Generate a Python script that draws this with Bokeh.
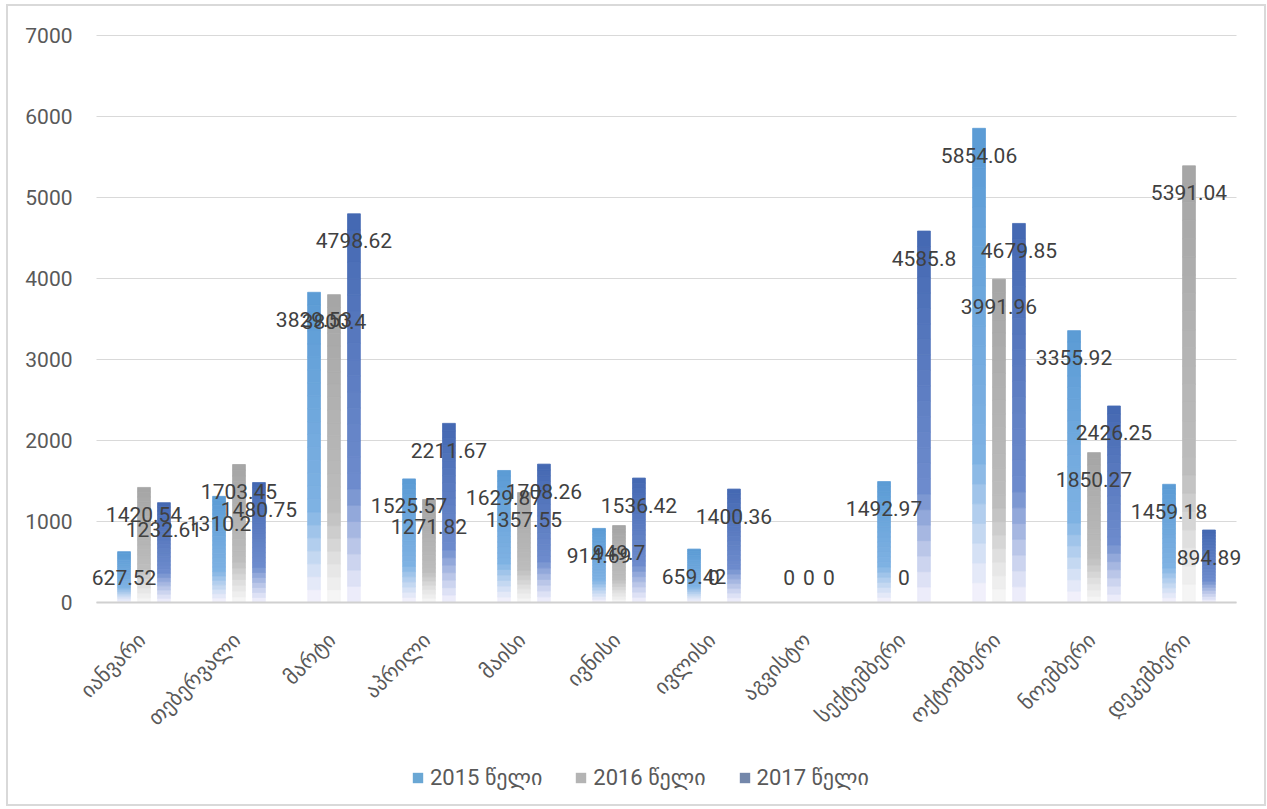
import numpy as np
from math import pi
from bokeh.plotting import figure
from bokeh.models import (ColumnDataSource, Range1d, Legend, LegendItem)
from bokeh.core.properties import value
from bokeh.embed import file_html
from bokeh.resources import INLINE

months = ["იანვარი", "თებერვალი", "მარტი", "აპრილი", "მაისი", "ივნისი",
          "ივლისი", "აგვისტო", "სექტემბერი", "ოქტომბერი", "ნოემბერი", "დეკემბერი"]
series_names = ["2015 წელი", "2016 წელი", "2017 წელი"]
v2015 = [627.52, 1310.2, 3829.53, 1525.57, 1629.87, 914.69, 659.42, 0, 1492.97, 5854.06, 3355.92, 1459.18]
v2016 = [1420.54, 1703.45, 3800.4, 1271.82, 1357.55, 949.7, 0, 0, 0, 3991.96, 1850.27, 5391.04]
v2017 = [1232.61, 1480.75, 4798.62, 2211.67, 1708.26, 1536.42, 1400.36, 0, 4585.8, 4679.85, 2426.25, 894.89]
y_ticks = [0, 1000, 2000, 3000, 4000, 5000, 6000, 7000]

series_values = [v2015, v2016, v2017]
colors_top = ["#5b9bd5", "#a5a5a5", "#4468b2"]
colors_mid = ["#7fb2e3", "#bdbdbd", "#6e8ccd"]
colors_bottom = ["#f6f3fc", "#f7f7f7", "#f1f0fc"]
legend_colors = ["#6aa7d4", "#b4b4b4", "#7487aa"]
offsets = [-0.21, 0.0, 0.21]
FONT = "Roboto, 'DejaVu Sans'"

# layout constants (pixels)
PLOT_W = 1140      # width of the category area
PLOT_H = 567       # height from 0 to 7000
PAD_L = 88         # space left of the category area
PAD_T = 29         # space above the 7000 line
FRAME_W = 1256
FRAME_H = 798
Y_MAX = y_ticks[-1]
n = len(months)
idx = list(range(n))
cat_px = PLOT_W / n
x0 = -0.5
x_start = x0 - PAD_L / cat_px
x_end = x_start + FRAME_W / cat_px
px_per_unit = PLOT_H / Y_MAX
y_end = Y_MAX + PAD_T / px_per_unit
y_start = y_end - FRAME_H / px_per_unit


def hex2rgb(h):
    h = h.lstrip("#")
    return np.array([int(h[i:i + 2], 16) for i in (0, 2, 4)], dtype=float)


def mix(c1, c2, t):
    c = hex2rgb(c1) * (1 - t) + hex2rgb(c2) * t
    return "#%02x%02x%02x" % tuple(int(round(x)) for x in c)


p = figure(x_range=Range1d(x_start, x_end), y_range=Range1d(y_start, y_end),
           frame_width=FRAME_W, frame_height=FRAME_H, output_backend="svg",
           toolbar_location=None, x_axis_location=None, y_axis_location=None,
           min_border_left=0, min_border_top=0, min_border_right=0, min_border_bottom=0)
p.styles = {"border": "2px solid #d9d9d9", "margin-left": "6px", "margin-top": "4px"}

p.xgrid.grid_line_color = None
p.ygrid.grid_line_color = None
p.outline_line_color = None

# horizontal gridlines across the category area
p.segment(x0=[x0] * len(y_ticks), x1=[x0 + n] * len(y_ticks),
          y0=y_ticks, y1=y_ticks, line_color="#d9d9d9", line_width=1)

# y tick labels
tsrc = ColumnDataSource(dict(x=[x0] * len(y_ticks), y=y_ticks, label=[str(t) for t in y_ticks]))
p.text(x="x", y="y", text="label", source=tsrc, text_align="right", text_baseline="middle",
       x_offset=-24, text_font=value("Roboto"), text_font_size="21px", text_color="#595959")

N = 24
legend_items = []
for s, vals in enumerate(series_values):
    xs, bots, tops, cols = [], [], [], []
    for i, v in enumerate(vals):
        if v <= 0:
            continue
        for k in range(N):
            f = (k + 0.5) / N
            if f < 0.3:
                c = mix(colors_bottom[s], colors_mid[s], (f / 0.3) ** 1.2)
            else:
                c = mix(colors_mid[s], colors_top[s], (f - 0.3) / 0.7)
            xs.append(i + offsets[s])
            bots.append(v * k / N)
            tops.append(v * (k + 1) / N)
            cols.append(c)
    src = ColumnDataSource(dict(x=xs, bottom=bots, top=tops, color=cols))
    p.vbar(x="x", bottom="bottom", top="top", width=0.135,
           fill_color="color", line_color="color", line_width=0.8, source=src)

    dummy = p.vbar(x=[0], top=[float("nan")], width=0.1,
                   fill_color=legend_colors[s], line_color=None)
    legend_items.append(LegendItem(label=series_names[s], renderers=[dummy]))

# x axis line
p.segment(x0=[x0], x1=[x0 + n], y0=[0], y1=[0], line_color="#d0d0d0", line_width=2)

for s, vals in enumerate(series_values):
    lsrc = ColumnDataSource(dict(x=[i + offsets[s] for i in idx],
                                 y=[max(v, 640) for v in vals],
                                 label=[f"{v:g}" for v in vals]))
    p.text(x="x", y="y", text="label", source=lsrc,
           text_align="center", text_baseline="middle", y_offset=27,
           text_font=value("Roboto"), text_font_size="21px", text_color="#404040")

# month labels (rotated)
msrc = ColumnDataSource(dict(x=idx, y=[0] * n, label=months))
p.text(x="x", y="y", text="label", source=msrc, angle=pi / 4,
       text_align="right", text_baseline="middle", x_offset=-2, y_offset=34,
       text_font=value("DejaVu Sans"), text_font_size="21px", text_color="#595959")

legend = Legend(items=legend_items, orientation="horizontal", location=(403, 14),
                label_text_font=FONT, label_text_font_size="22px",
                label_text_color="#595959", glyph_width=13, glyph_height=13,
                spacing=32, label_standoff=6, border_line_color=None,
                background_fill_alpha=0, padding=4, margin=0)
p.add_layout(legend, "center")

open("out.html", "w").write(file_html(p, INLINE))
